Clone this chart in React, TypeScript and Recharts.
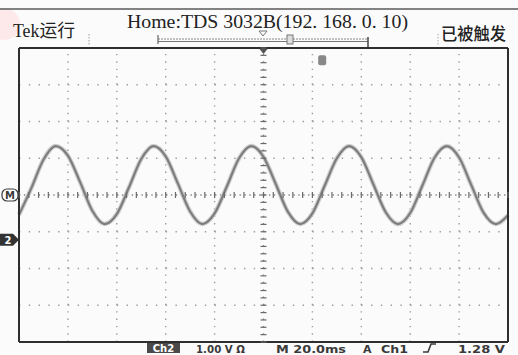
import React from 'react';
import {
  ComposedChart, Line, Scatter, XAxis, YAxis, ReferenceLine, ReferenceDot,
} from 'recharts';

// time in ms (20 ms/div), value in screen divisions from the centre line
const waveT = [0, 5, 10, 15, 20, 25, 30, 35, 40, 45, 50, 55, 60, 65, 70, 75, 80, 85, 90, 95, 100,
  105, 110, 115, 120, 125, 130, 135, 140, 145, 150, 155, 160, 165, 170, 175, 180, 185, 190, 195, 200];
const waveV = [-0.54, 0.18, 0.96, 1.33, 1.07, 0.35, -0.43, -0.79, -0.52, 0.21, 0.98, 1.33, 1.05, 0.31,
  -0.45, -0.79, -0.5, 0.23, 1.0, 1.33, 1.04, 0.3, -0.46, -0.79, -0.5, 0.25, 1.0, 1.33, 1.03, 0.28,
  -0.47, -0.79, -0.49, 0.26, 1.02, 1.33, 1.02, 0.27, -0.48, -0.79, -0.55];

const gridT = [20, 40, 60, 80, 120, 140, 160, 180];
const gridV = [-3, -2, -1, 1, 2, 3];
const minorT = Array.from({ length: 51 }, (_, i) => i * 4);
const minorV = Array.from({ length: 41 }, (_, i) => +(-4 + i * 0.2).toFixed(1));

const ch2Ground = -1.22; // Ch2 marker level
const trigMark = { t: 124, v: 3.67 };

const waveform = waveT.map((t, i) => ({ t, v: waveV[i] }));
const centreH = minorT.map((t) => ({ t, v: 0 }));
const centreV = minorV.map((v) => ({ t: 100, v }));

const INK = '#3a3a3a';
const DOT = '#9c9c9c';

const VTick = (p: any) => (
  <line x1={p.cx} y1={p.cy - 3} x2={p.cx} y2={p.cy + 3} stroke="#6a6a6a" strokeWidth={1.2} />
);
const HTick = (p: any) => (
  <line x1={p.cx - 3} y1={p.cy} x2={p.cx + 3} y2={p.cy} stroke="#6a6a6a" strokeWidth={1.2} />
);

const MMarker = (p: any) => (
  <g>
    <rect x={p.cx - 17} y={p.cy - 6} width={16} height={12} rx={5} fill="#fff" stroke={INK} strokeWidth={1.2} />
    <text x={p.cx - 9} y={p.cy + 4} fontSize={10} fontWeight={700} textAnchor="middle" fill={INK}
      fontFamily="'DejaVu Sans'">M</text>
  </g>
);
const Ch2Marker = (p: any) => (
  <g>
    <path d={`M${p.cx - 19},${p.cy - 6} L${p.cx - 6},${p.cy - 6} L${p.cx},${p.cy} L${p.cx - 6},${p.cy + 6} L${p.cx - 19},${p.cy + 6} Z`}
      fill="#333" />
    <text x={p.cx - 11} y={p.cy + 4} fontSize={10} fontWeight={700} textAnchor="middle" fill="#fff"
      fontFamily="'DejaVu Sans'">2</text>
  </g>
);
const TrigBlob = (p: any) => (
  <rect x={p.cx - 4} y={p.cy - 5} width={8} height={10} rx={2} fill="#888" />
);
const TopArrow = (p: any) => (
  <path d={`M${p.cx - 4},${p.cy + 1} L${p.cx + 4},${p.cy + 1} L${p.cx},${p.cy + 6} Z`} fill="#555" />
);

const borderAxis = { type: 'number' as const, mirror: true, tickSize: 4, tick: false, interval: 0,
  axisLine: { stroke: '#2e2e2e', strokeWidth: 2 }, tickLine: { stroke: '#555' } };

export default function App() {
  return (
    <div style={{ width: 518, height: 355, position: 'relative', background: '#fbfbfb', overflow: 'hidden' }}>
      <style>{'body{margin:0}'}</style>
      <svg width={518} height={355} style={{ position: 'absolute', left: 0, top: 0 }}>
        <circle cx={4} cy={24} r={16} fill="#fde9ea" />
        <line x1={0} y1={9} x2={518} y2={9} stroke="#5a5a5a" strokeWidth={1.5} />
        <text x={13} y={37} fontSize={18} textLength={62} lengthAdjust="spacingAndGlyphs"
          fontFamily="'Liberation Serif','Noto Sans CJK SC'" fill="#222">Tek运行</text>
        <text x={127} y={28} fontSize={19} textLength={281} lengthAdjust="spacingAndGlyphs"
          fontFamily="'Liberation Serif','Noto Sans CJK SC'" fill="#222">Home:TDS 3032B(192. 168. 0. 10)</text>
        <text x={441} y={40} fontSize={17} textLength={65} lengthAdjust="spacingAndGlyphs"
          fontFamily="'Noto Sans CJK SC'" fontWeight={500} fill="#222">已被触发</text>
        {/* record bar */}
        <line x1={158} y1={39} x2={368} y2={39} stroke="#888" strokeWidth={1} strokeDasharray="2 1" />
        <line x1={158} y1={41.5} x2={368} y2={41.5} stroke="#777" strokeWidth={1} />
        <line x1={158} y1={35} x2={158} y2={44} stroke="#666" strokeWidth={1.2} />
        <line x1={368} y1={37} x2={368} y2={47} stroke="#444" strokeWidth={1.5} />
        <rect x={287} y={35} width={6} height={9} fill="#ddd" stroke="#777" strokeWidth={1} />
        <path d="M259,31 L267,31 L263,36 Z" fill="none" stroke="#777" strokeWidth={1} />
        <line x1={89} y1={34} x2={89} y2={45} stroke="#999" strokeDasharray="1.5 1.5" />
        <line x1={438} y1={34} x2={438} y2={45} stroke="#aaa" strokeDasharray="1.5 1.5" />
        {/* status line */}
        <rect x={147} y={343} width={33} height={10} fill="#4a4a4a" />
        <text x={163.5} y={352} fontSize={10} fontWeight={700} textAnchor="middle" fill="#fff"
          fontFamily="'DejaVu Sans'">Ch2</text>
        <g fontFamily="'DejaVu Sans'" fontWeight={700} fontSize={11} fill={INK}>
          <text x={196} y={352.5} textLength={49} lengthAdjust="spacingAndGlyphs">1.00 V Ω</text>
          <text x={276} y={352.5} textLength={70} lengthAdjust="spacingAndGlyphs">M 20.0ms</text>
          <text x={363} y={352.5}>A</text>
          <text x={381} y={352.5} textLength={27} lengthAdjust="spacingAndGlyphs">Ch1</text>
          <text x={458} y={352.5} textLength={47} lengthAdjust="spacingAndGlyphs">1.28 V</text>
        </g>
        <path d="M423,352 L428,352 L431,344 L436,344" fill="none" stroke={INK} strokeWidth={1.6} />
      </svg>
      <div style={{ position: 'absolute', left: 0, top: 0 }}>
        <ComposedChart width={518} height={355} margin={{ top: 48, right: 10, bottom: 13, left: 19 }}>
          <XAxis dataKey="t" type="number" domain={[0, 200]} hide />
          <YAxis type="number" domain={[-4, 4]} hide />
          <XAxis xAxisId="top" orientation="top" height={1} domain={[0, 200]} ticks={minorT} {...borderAxis} />
          <XAxis xAxisId="bot" orientation="bottom" height={1} domain={[0, 200]} ticks={minorT} {...borderAxis} />
          <YAxis yAxisId="left" orientation="left" width={1} domain={[-4, 4]} ticks={minorV} {...borderAxis} />
          <YAxis yAxisId="right" orientation="right" width={1} domain={[-4, 4]} ticks={minorV} {...borderAxis} />

          {gridT.map((t) => (
            <ReferenceLine key={'gx' + t} x={t} stroke={DOT} strokeWidth={1.4} strokeDasharray="1.4 5.95" />
          ))}
          {gridV.map((v) => (
            <ReferenceLine key={'gy' + v} y={v} stroke={DOT} strokeWidth={1.4} strokeDasharray="1.4 8.38" />
          ))}
          <ReferenceLine x={100} stroke="#888" strokeWidth={1.4} strokeDasharray="1.4 5.95" />
          <ReferenceLine y={0} stroke="#888" strokeWidth={1.4} strokeDasharray="1.4 3.5" />

          <Scatter data={centreH} dataKey="v" shape={VTick} isAnimationActive={false} />
          <Scatter data={centreV} dataKey="v" shape={HTick} isAnimationActive={false} />

          <Line data={waveform} dataKey="v" type="monotone" stroke="#cfcfcf" strokeWidth={4.5}
            dot={false} isAnimationActive={false} />
          <Line data={waveform} dataKey="v" type="monotone" stroke="#7d7d7d" strokeWidth={2.2}
            dot={false} isAnimationActive={false} />

          <ReferenceDot x={0} y={0} r={0} shape={MMarker} ifOverflow="visible" />
          <ReferenceDot x={0} y={ch2Ground} r={0} shape={Ch2Marker} ifOverflow="visible" />
          <ReferenceDot x={trigMark.t} y={trigMark.v} r={0} shape={TrigBlob} ifOverflow="visible" />
          <ReferenceDot x={100} y={4} r={0} shape={TopArrow} ifOverflow="visible" />
        </ComposedChart>
      </div>
    </div>
  );
}
